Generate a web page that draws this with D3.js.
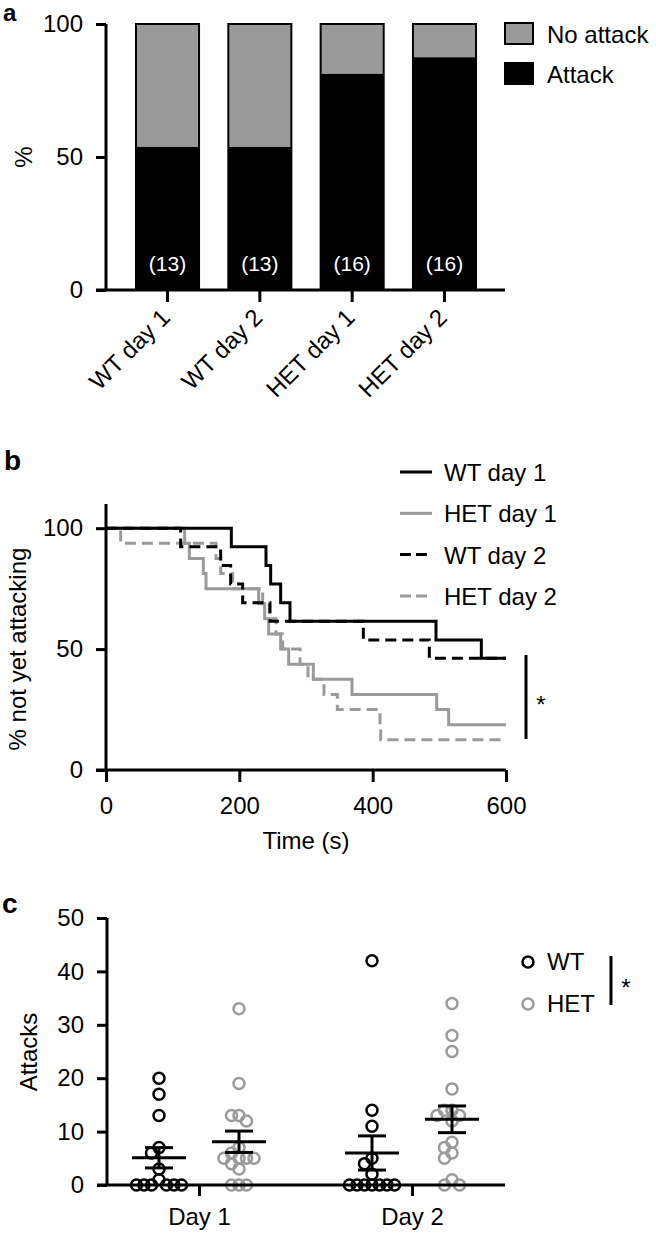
<!DOCTYPE html>
<html><head><meta charset="utf-8">
<script src="https://cdn.jsdelivr.net/npm/d3@7"></script>
<style>
body{margin:0;background:#fff;}
svg text{font-family:"Liberation Sans",Arial,Helvetica,sans-serif;fill:#000;}
</style></head><body>
<svg id="chart" width="656" height="1233" xmlns="http://www.w3.org/2000/svg"></svg>
<script>
// ---------- Panel a data ----------
const groupsA = ["WT day 1", "WT day 2", "HET day 1", "HET day 2"];
const attackPct = [53.8, 53.8, 81.25, 87.5];
const noAttackPct = [46.2, 46.2, 18.75, 12.5];
const groupN = ["(13)", "(13)", "(16)", "(16)"];
const ticksA = [0, 50, 100];
const legendA = ["No attack", "Attack"];

// ---------- Panel b data (Kaplan-Meier style curves) ----------
const timeTicks = [0, 200, 400, 600];
const survTicks = [0, 50, 100];
const wtDay1Times = [188, 240, 247, 262, 276, 495, 563];
const wtDay1Pct   = [92.3, 84.6, 76.9, 69.2, 61.5, 53.8, 46.2];
const hetDay1Times = [118, 125, 146, 150, 229, 238, 244, 262, 274, 311, 369, 496, 514];
const hetDay1Pct   = [93.75, 87.5, 81.25, 75, 68.75, 62.5, 56.25, 50, 43.75, 37.5, 31.25, 25, 18.75];
const wtDay2Times = [112, 172, 187, 205, 246, 386, 485];
const wtDay2Pct   = [92.3, 84.6, 76.9, 69.2, 61.5, 53.8, 46.2];
const hetDay2Times = [22, 165, 172, 190, 235, 245, 255, 265, 291, 303, 327, 347, 411, 412];
const hetDay2Pct   = [93.75, 87.5, 81.25, 75, 68.75, 62.5, 56.25, 50, 43.75, 37.5, 31.25, 25, 18.75, 12.5];
const seriesNamesB = ["WT day 1", "HET day 1", "WT day 2", "HET day 2"];

// ---------- Panel c data ----------
const days = ["Day 1", "Day 2"];
const attackTicks = [0, 10, 20, 30, 40, 50];
const wtAttacksDay1 = [20, 17, 13, 7, 6, 3, 1, 0, 0, 0, 0, 0, 0];
const hetAttacksDay1 = [33, 19, 13, 13, 12, 7, 6, 5, 5, 5, 5, 4, 3, 0, 0, 0];
const wtAttacksDay2 = [42, 14, 11, 5, 4, 2, 0, 0, 0, 0, 0, 0, 0];
const hetAttacksDay2 = [34, 28, 25, 18, 14, 14, 13, 13, 12, 8, 7, 6, 5, 1, 0, 0];
const wtMeans = [5.1, 6.0];
const wtSem = [1.9, 3.2];
const hetMeans = [8.1, 12.3];
const hetSem = [2.0, 2.5];
const genotypes = ["WT", "HET"];

// ---------- styling ----------
const GREY = "#9a9a9a";
const FS = 24;
const svg = d3.select("#chart");

function styleAxis(g, fs) {
  g.select(".domain").remove();
  g.selectAll(".tick line").attr("stroke", "#000").attr("stroke-width", 3);
  g.selectAll(".tick text").attr("font-size", fs).attr("fill", "#000");
}

// ================= Panel a =================
(function () {
  const y = d3.scaleLinear().domain([0, 100]).range([290, 24]);
  const x = d3.scaleBand().domain(groupsA).range([121.35, 490.65])
    .paddingInner(0.317).paddingOuter(0.1585);
  const axisX = 106;
  const g = svg.append("g");

  groupsA.forEach((grp, i) => {
    g.append("rect").attr("x", x(grp)).attr("width", x.bandwidth())
      .attr("y", y(100)).attr("height", y(attackPct[i]) - y(100))
      .attr("fill", GREY);
    g.append("rect").attr("x", x(grp)).attr("width", x.bandwidth())
      .attr("y", y(attackPct[i])).attr("height", y(0) - y(attackPct[i]))
      .attr("fill", "#000");
    g.append("rect").attr("x", x(grp)).attr("width", x.bandwidth())
      .attr("y", y(attackPct[i] + noAttackPct[i])).attr("height", y(0) - y(attackPct[i] + noAttackPct[i]))
      .attr("fill", "none").attr("stroke", "#000").attr("stroke-width", 2);
    g.append("text").attr("x", x(grp) + x.bandwidth() / 2).attr("y", 271)
      .attr("text-anchor", "middle").attr("font-size", 21)
      .style("fill", "#fff").text(groupN[i]);
  });

  const ya = g.append("g").attr("transform", `translate(${axisX},0)`)
    .call(d3.axisLeft(y).tickValues(ticksA).tickSize(10).tickPadding(13).tickSizeOuter(0));
  styleAxis(ya, FS);
  g.append("line").attr("x1", axisX).attr("x2", axisX).attr("y1", y(100)).attr("y2", y(0))
    .attr("stroke", "#000").attr("stroke-width", 3);
  const xa = g.append("g").attr("transform", `translate(0,${y(0)})`)
    .call(d3.axisBottom(x).tickSize(12).tickSizeOuter(0).tickFormat(""));
  styleAxis(xa, FS);
  g.append("line").attr("x1", 96).attr("x2", 505).attr("y1", y(0)).attr("y2", y(0))
    .attr("stroke", "#000").attr("stroke-width", 3);
  groupsA.forEach(grp => {
    const cx = x(grp) + x.bandwidth() / 2;
    g.append("text").attr("transform", `translate(${cx + 4},319) rotate(-45)`)
      .attr("text-anchor", "end").attr("font-size", FS).text(grp);
  });
  g.append("text").attr("transform", `translate(32,157) rotate(-90)`)
    .attr("text-anchor", "middle").attr("font-size", FS).text("%");
  const fills = [GREY, "#000"];
  legendA.forEach((lab, i) => {
    const ly = [23, 63][i];
    g.append("rect").attr("x", 505).attr("y", ly).attr("width", 28).attr("height", 21)
      .attr("fill", fills[i]).attr("stroke", "#000").attr("stroke-width", 2);
    g.append("text").attr("x", 547).attr("y", ly + 20).attr("font-size", FS).text(lab);
  });
  svg.append("text").attr("x", 3).attr("y", 21).attr("font-size", 24).attr("font-weight", "bold").text("a");
})();

// ================= Panel b =================
(function () {
  const x = d3.scaleLinear().domain([0, 600]).range([106, 506]);
  const y = d3.scaleLinear().domain([0, 110]).range([770, 504]);
  const g = svg.append("g");
  const line = d3.line().x(d => x(d[0])).y(d => y(d[1])).curve(d3.curveStepAfter);
  function pts(times, pct) {
    const p = [[0, 100]];
    times.forEach((t, i) => p.push([t, pct[i]]));
    p.push([600, pct[pct.length - 1]]);
    return p;
  }
  const series = [
    { name: "HET day 2", data: pts(hetDay2Times, hetDay2Pct), color: GREY, dash: "11,6" },
    { name: "HET day 1", data: pts(hetDay1Times, hetDay1Pct), color: GREY, dash: null },
    { name: "WT day 2", data: pts(wtDay2Times, wtDay2Pct), color: "#000", dash: "11,6" },
    { name: "WT day 1", data: pts(wtDay1Times, wtDay1Pct), color: "#000", dash: null },
  ];
  series.forEach(s => {
    g.append("path").attr("d", line(s.data)).attr("fill", "none")
      .attr("stroke", s.color).attr("stroke-width", 3)
      .attr("stroke-dasharray", s.dash);
  });
  const ya = g.append("g").attr("transform", `translate(106,0)`)
    .call(d3.axisLeft(y).tickValues(survTicks).tickSize(10).tickPadding(13).tickSizeOuter(0));
  styleAxis(ya, FS);
  g.append("line").attr("x1", 106).attr("x2", 106).attr("y1", y(110)).attr("y2", y(0))
    .attr("stroke", "#000").attr("stroke-width", 3);
  const xa = g.append("g").attr("transform", `translate(0,${y(0)})`)
    .call(d3.axisBottom(x).tickValues(timeTicks).tickSize(12).tickPadding(15).tickSizeOuter(0));
  styleAxis(xa, FS);
  g.append("line").attr("x1", 96).attr("x2", 506).attr("y1", y(0)).attr("y2", y(0))
    .attr("stroke", "#000").attr("stroke-width", 3);
  g.append("text").attr("x", 306).attr("y", 849).attr("text-anchor", "middle")
    .attr("font-size", FS).text("Time (s)");
  g.append("text").attr("transform", `translate(26,649) rotate(-90)`)
    .attr("text-anchor", "middle").attr("font-size", FS).text("% not yet attacking");
  const legOrder = [
    { name: seriesNamesB[0], color: "#000", dash: null },
    { name: seriesNamesB[1], color: GREY, dash: null },
    { name: seriesNamesB[2], color: "#000", dash: "11,5" },
    { name: seriesNamesB[3], color: GREY, dash: "11,5" },
  ];
  legOrder.forEach((s, i) => {
    const ly = 472 + i * 41.3;
    g.append("line").attr("x1", 400).attr("x2", 432).attr("y1", ly).attr("y2", ly)
      .attr("stroke", s.color).attr("stroke-width", 3).attr("stroke-dasharray", s.dash);
    g.append("text").attr("x", 444).attr("y", ly + 9).attr("font-size", FS).text(s.name);
  });
  g.append("line").attr("x1", 526).attr("x2", 526).attr("y1", 655).attr("y2", 739)
    .attr("stroke", "#000").attr("stroke-width", 3);
  g.append("text").attr("x", 541).attr("y", 713).attr("text-anchor", "middle")
    .attr("font-size", 24).text("*");
  svg.append("text").attr("x", 4).attr("y", 470).attr("font-size", 28).attr("font-weight", "bold").text("b");
})();

// ================= Panel c =================
(function () {
  const y = d3.scaleLinear().domain([0, 50]).range([1185, 918]);
  const x = d3.scalePoint().domain(days).range([199, 412]);
  const off = { WT: -40, HET: 40 };
  const g = svg.append("g");

  // simple row-based swarm: points closer than dyMin vertically are spread sideways
  function swarm(vals, cx, dxMin, dyMin) {
    const placed = [];
    const order = vals.map((v, i) => ({ v, i })).sort((a, b) => b.v - a.v);
    order.forEach(o => {
      const py = y(o.v);
      for (let k = 0; k < 400; k++) {
        const dx = (k % 2 === 0 ? 1 : -1) * Math.ceil(k / 2) * 0.5;
        const px = cx + dx;
        if (placed.every(p => Math.abs(p[0] - px) >= dxMin || Math.abs(p[1] - py) >= dyMin)) {
          placed.push([px, py]);
          break;
        }
      }
    });
    return placed;
  }

  const sets = [
    { geno: "WT", day: days[0], vals: wtAttacksDay1, mean: wtMeans[0], sem: wtSem[0], color: "#000" },
    { geno: "HET", day: days[0], vals: hetAttacksDay1, mean: hetMeans[0], sem: hetSem[0], color: GREY },
    { geno: "WT", day: days[1], vals: wtAttacksDay2, mean: wtMeans[1], sem: wtSem[1], color: "#000" },
    { geno: "HET", day: days[1], vals: hetAttacksDay2, mean: hetMeans[1], sem: hetSem[1], color: GREY },
  ];
  sets.forEach(s => {
    const cx = x(s.day) + off[s.geno];
    swarm(s.vals, cx, 7.5, 6).forEach(p => {
      g.append("circle").attr("cx", p[0]).attr("cy", p[1]).attr("r", 5.5)
        .attr("fill", "none").attr("stroke", s.color).attr("stroke-width", 2.5);
    });
  });
  sets.forEach(s => {
    const cx = x(s.day) + off[s.geno];
    g.append("line").attr("x1", cx - 27).attr("x2", cx + 27).attr("y1", y(s.mean)).attr("y2", y(s.mean))
      .attr("stroke", "#000").attr("stroke-width", 3);
    g.append("line").attr("x1", cx).attr("x2", cx).attr("y1", y(s.mean + s.sem)).attr("y2", y(s.mean - s.sem))
      .attr("stroke", "#000").attr("stroke-width", 3);
    [s.mean + s.sem, s.mean - s.sem].forEach(v => {
      g.append("line").attr("x1", cx - 14).attr("x2", cx + 14).attr("y1", y(v)).attr("y2", y(v))
        .attr("stroke", "#000").attr("stroke-width", 3);
    });
  });
  const ya = g.append("g").attr("transform", `translate(107,0)`)
    .call(d3.axisLeft(y).tickValues(attackTicks).tickSize(10).tickPadding(13).tickSizeOuter(0));
  styleAxis(ya, FS);
  g.append("line").attr("x1", 107).attr("x2", 107).attr("y1", y(50)).attr("y2", y(0))
    .attr("stroke", "#000").attr("stroke-width", 3);
  const xa = g.append("g").attr("transform", `translate(0,${y(0)})`)
    .call(d3.axisBottom(x).tickSize(11).tickPadding(12).tickSizeOuter(0));
  styleAxis(xa, FS);
  g.append("line").attr("x1", 97).attr("x2", 505).attr("y1", y(0)).attr("y2", y(0))
    .attr("stroke", "#000").attr("stroke-width", 3);
  g.append("text").attr("transform", `translate(37,1052) rotate(-90)`)
    .attr("text-anchor", "middle").attr("font-size", FS).text("Attacks");
  const legColors = ["#000", GREY];
  genotypes.forEach((gn, i) => {
    const ly = 962 + i * 42;
    g.append("circle").attr("cx", 528).attr("cy", ly).attr("r", 5.5)
      .attr("fill", "none").attr("stroke", legColors[i]).attr("stroke-width", 2.5);
    g.append("text").attr("x", 547).attr("y", ly + 8).attr("font-size", FS).text(gn);
  });
  g.append("line").attr("x1", 611).attr("x2", 611).attr("y1", 956).attr("y2", 1005)
    .attr("stroke", "#000").attr("stroke-width", 3);
  g.append("text").attr("x", 626).attr("y", 996).attr("text-anchor", "middle")
    .attr("font-size", 24).text("*");
  svg.append("text").attr("x", 2).attr("y", 913).attr("font-size", 28).attr("font-weight", "bold").text("c");
})();
</script>
</body></html>
